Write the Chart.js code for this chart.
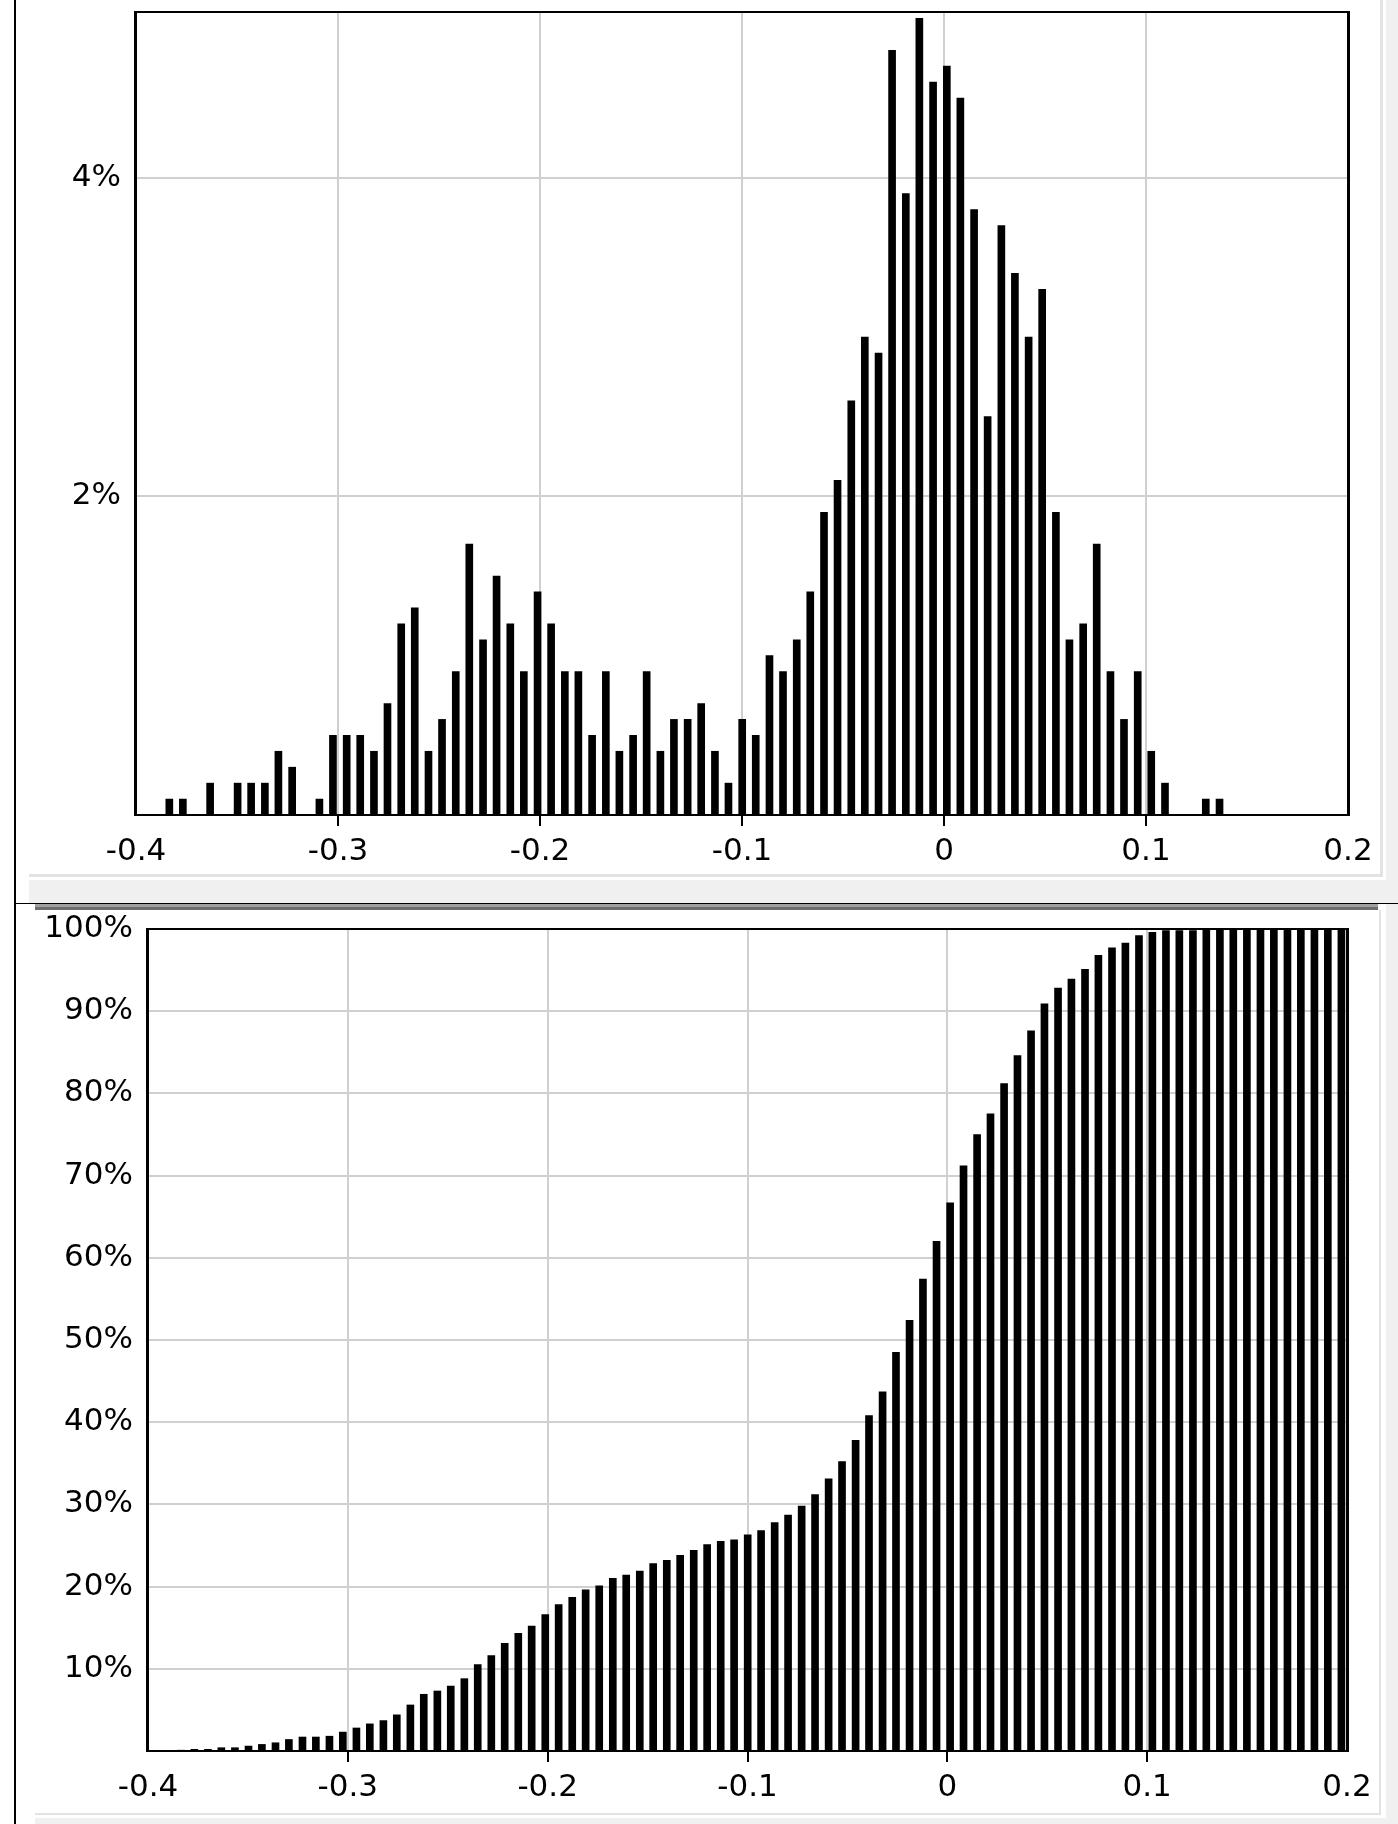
<!DOCTYPE html>
<html>
<head>
<meta charset="utf-8">
<script src="https://cdn.jsdelivr.net/npm/chart.js@4.4.1/dist/chart.umd.min.js"></script>
<style>
  body { margin: 0; width: 1398px; height: 1824px; position: relative; overflow: hidden; background: #fff; }
  .blk { position: absolute; }
  canvas { position: absolute; }
</style>
</head>
<body>
<!-- window chrome around the two panels -->
<div class="blk" style="left:29px; top:880px; width:1369px; height:23px; background:#f0f0f0"></div>
<div class="blk" style="left:1386px; top:0; width:12px; height:1824px; background:#f0f0f0"></div>
<div class="blk" style="left:35px; top:1818px; width:1363px; height:6px; background:#f0f0f0"></div>
<div class="blk" style="left:29px; top:874px; width:1354px; height:3px; background:#e3e3e3"></div>
<div class="blk" style="left:1380px; top:0; width:3px; height:877px; background:#e3e3e3"></div>
<div class="blk" style="left:35px; top:1813px; width:1346px; height:2px; background:#e3e3e3"></div>
<div class="blk" style="left:1379px; top:910px; width:2px; height:905px; background:#e3e3e3"></div>
<div class="blk" style="left:14px; top:0; width:2px; height:1824px; background:#000"></div>
<div class="blk" style="left:15px; top:903px; width:1383px; height:1px; background:#000"></div>
<div class="blk" style="left:35px; top:904px; width:1343px; height:3px; background:#a0a0a0"></div>
<div class="blk" style="left:35px; top:907px; width:1343px; height:3px; background:#6e6e6e"></div>

<canvas id="hist-chart" width="1351" height="873" style="left:29px; top:0"></canvas>
<canvas id="cum-chart" width="1343" height="901" style="left:35px; top:911px"></canvas>

<script>
// bin centres of the histogram
const bins = [
  -0.3835, -0.3768, -0.3700, -0.3633, -0.3565, -0.3497, -0.3430, -0.3362, -0.3295, -0.3227,
  -0.3160, -0.3092, -0.3025, -0.2957, -0.2890, -0.2822, -0.2755, -0.2687, -0.2620, -0.2552,
  -0.2485, -0.2417, -0.2350, -0.2282, -0.2215, -0.2147, -0.2080, -0.2012, -0.1945, -0.1877,
  -0.1810, -0.1742, -0.1674, -0.1607, -0.1539, -0.1472, -0.1404, -0.1337, -0.1269, -0.1202,
  -0.1134, -0.1067, -0.0999, -0.0932, -0.0864, -0.0797, -0.0729, -0.0662, -0.0594, -0.0527,
  -0.0459, -0.0392, -0.0324, -0.0257, -0.0189, -0.0122, -0.0054, 0.0014, 0.0081, 0.0149,
  0.0216, 0.0284, 0.0351, 0.0419, 0.0486, 0.0554, 0.0621, 0.0689, 0.0756, 0.0824,
  0.0891, 0.0959, 0.1026, 0.1094, 0.1161, 0.1229, 0.1296, 0.1364, 0.1431, 0.1499,
  0.1567, 0.1634, 0.1702, 0.1769, 0.1837, 0.1904, 0.1972
]

// share of observations per bin, %
const pct = [
  0.1, 0.1, 0, 0.2, 0, 0.2, 0.2, 0.2, 0.4, 0.3,
  0, 0.1, 0.5, 0.5, 0.5, 0.4, 0.7, 1.2, 1.3, 0.4,
  0.6, 0.9, 1.7, 1.1, 1.5, 1.2, 0.9, 1.4, 1.2, 0.9,
  0.9, 0.5, 0.9, 0.4, 0.5, 0.9, 0.4, 0.6, 0.6, 0.7,
  0.4, 0.2, 0.6, 0.5, 1.0, 0.9, 1.1, 1.4, 1.9, 2.1,
  2.6, 3.0, 2.9, 4.8, 3.9, 5.0, 4.6, 4.7, 4.5, 3.8,
  2.5, 3.7, 3.4, 3.0, 3.3, 1.9, 1.1, 1.2, 1.7, 0.9,
  0.6, 0.9, 0.4, 0.2, 0, 0, 0.1, 0.1
]

// cumulative share, %
const cumPct = [
  0.1, 0.2, 0.2, 0.4, 0.4, 0.6, 0.8, 1.0, 1.4, 1.7,
  1.7, 1.8, 2.3, 2.8, 3.3, 3.7, 4.4, 5.6, 6.9, 7.3,
  7.9, 8.8, 10.5, 11.6, 13.1, 14.3, 15.2, 16.6, 17.8, 18.7,
  19.6, 20.1, 21.0, 21.4, 21.9, 22.8, 23.2, 23.8, 24.4, 25.1,
  25.5, 25.7, 26.3, 26.8, 27.8, 28.7, 29.8, 31.2, 33.1, 35.2,
  37.8, 40.8, 43.7, 48.5, 52.4, 57.4, 62.0, 66.7, 71.2, 75.0,
  77.5, 81.2, 84.6, 87.6, 90.9, 92.8, 93.9, 95.1, 96.8, 97.7,
  98.3, 99.2, 99.6, 99.8, 99.8, 99.8, 99.9, 100, 100, 100,
  100, 100, 100, 100, 100, 100, 100
]

const xTicks = [-0.4, -0.3, -0.2, -0.1, 0, 0.1, 0.2]
const xTickLabels = ['-0.4', '-0.3', '-0.2', '-0.1', '0', '0.1', '0.2']
const pctTicks = [2, 4]
const cumTicks = [10, 20, 30, 40, 50, 60, 70, 80, 90, 100]

const font = { family: 'DejaVu Sans', size: 31 }

// black box around the plot area
const frame = {
  id: 'frame',
  afterDatasetsDraw(chart) {
    const a = chart.chartArea
    const c = chart.ctx
    c.save()
    c.fillStyle = '#000'
    c.fillRect(a.left - 2, a.top - 1, a.right - a.left + 4, 2)
    c.fillRect(a.left - 2, a.bottom - 1, a.right - a.left + 4, 2)
    c.fillRect(a.left - 2, a.top - 1, 3, a.bottom - a.top + 2)
    c.fillRect(a.right - 1, a.top - 1, 3, a.bottom - a.top + 2)
    c.restore()
  }
}

function histChart(id, values, yMax, yTicks, yWidth, xHeight, padding) {
  const data = {
    datasets: [{
      data: values.map((v, i) => ({ x: bins[i], y: v })),
      backgroundColor: '#000',
      borderWidth: 0,
      barThickness: 7,
    }]
  }

  const config = {
    type: 'bar',
    data: data,
    options: {
      responsive: false,
      animation: false,
      layout: { padding },
      plugins: { legend: { display: false }, tooltip: { enabled: false } },
      scales: {
        x: {
          type: 'linear',
          min: -0.4,
          max: 0.2,
          offset: false,
          afterBuildTicks: s => { s.ticks = xTicks.map(v => ({ value: v })) },
          afterFit: s => { s.height = xHeight; s.paddingLeft = 0; s.paddingRight = 0 },
          border: { display: false },
          grid: {
            offset: false,
            color: '#d0d0d0',
            lineWidth: 2,
            tickLength: 11,
            tickWidth: 2,
            tickColor: ctx => (ctx.index === 0 || ctx.index === xTicks.length - 1) ? 'rgba(0,0,0,0)' : '#000',
          },
          ticks: { font, color: '#000', padding: 7, maxRotation: 0, autoSkip: false, callback: (v, i) => xTickLabels[i] },
        },
        y: {
          min: 0,
          max: yMax,
          afterBuildTicks: s => { s.ticks = yTicks.map(v => ({ value: v })) },
          afterFit: s => { s.width = yWidth; s.paddingTop = 0; s.paddingBottom = 0 },
          border: { display: false },
          grid: { color: '#d0d0d0', lineWidth: 2, drawTicks: false },
          ticks: { font, color: '#000', padding: 15, callback: v => v + '%' },
        }
      }
    },
    plugins: [frame]
  }

  return new Chart(document.getElementById(id), config)
}

histChart('hist-chart', pct, 5.04, pctTicks, 107, 58, { top: 12, right: 32, left: 0, bottom: 0 })
histChart('cum-chart', cumPct, 100, cumTicks, 113, 61, { top: 18, right: 31, left: 0, bottom: 0 })
</script>
</body>
</html>
